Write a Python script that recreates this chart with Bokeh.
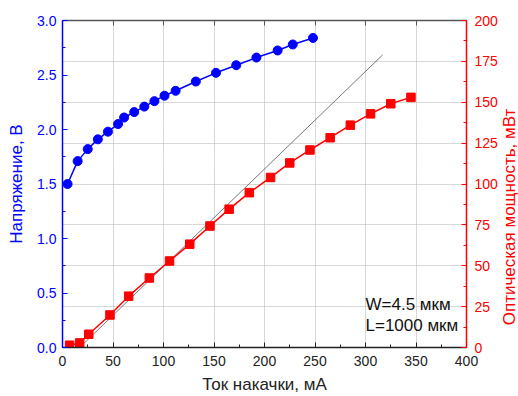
import math
from bokeh.plotting import figure
from bokeh.layouts import row
from bokeh.models import (Range1d, LinearAxis, SingleIntervalTicker, Grid, Label, Div,
                          PrintfTickFormatter, CustomJSTickFormatter)
from bokeh.embed import file_html
from bokeh.resources import INLINE

# ---- data ----
v_current = [5, 15, 25, 35, 45, 55, 61, 71, 81, 91, 101, 112, 132, 152, 172, 192, 213, 228, 248]
voltage = [1.50, 1.71, 1.82, 1.91, 1.98, 2.05, 2.11, 2.16, 2.21, 2.26, 2.31, 2.355, 2.44, 2.52, 2.59, 2.66, 2.725, 2.78, 2.84]

p_current = [7, 17, 26, 47, 65.5, 86, 106, 126, 146, 165, 185, 206, 225, 245, 265, 285, 305, 325, 345]
power = [1.4, 2.8, 8.1, 19.9, 31.4, 42.5, 52.9, 63.2, 74.3, 84.6, 94.7, 104, 112.9, 120.8, 128.3, 136, 142.9, 149.1, 153]

fit_current = [17, 317]
fit_power = [0, 179]

x_label = "Ток накачки, мА"
y_label = "Напряжение, В"
y2_label = "Оптическая мощность, мВт"
notes = ["W=4.5 мкм", "L=1000 мкм"]
note_x = 300
note_y = [26.0, 13.5]

FONT = "Liberation Sans"
BLUE = "#0000ff"
RED = "#ff0000"

p = figure(width=500, height=396, output_backend="svg", toolbar_location=None,
           x_range=Range1d(0, 400), y_range=Range1d(0, 3.0),
           min_border_left=62, min_border_right=32, min_border_top=20, min_border_bottom=47)
p.extra_y_ranges = {"power": Range1d(0, 200)}
p.outline_line_color = None
p.background_fill_color = "white"
p.border_fill_color = "white"

def style_axis(ax, color, label_color=None):
    ax.axis_line_color = color
    ax.axis_line_width = 1.5
    ax.major_tick_line_color = color
    ax.minor_tick_line_color = color
    ax.major_tick_in = 5
    ax.major_tick_out = 0
    ax.minor_tick_in = 3
    ax.minor_tick_out = 0
    ax.major_label_text_font = FONT
    ax.major_label_text_font_size = "14px"
    ax.major_label_text_color = label_color or color
    ax.axis_label_text_font = FONT
    ax.axis_label_text_font_size = "17px"
    ax.axis_label_text_font_style = "normal"
    ax.axis_label_text_color = label_color or color
    ax.major_label_standoff = 6

# bottom axis
xax = p.xaxis[0]
xax.ticker = SingleIntervalTicker(interval=50, num_minor_ticks=2)
style_axis(xax, "#222222", "#222222")
xax.axis_label = x_label
xax.major_label_standoff = 8
xax.axis_label_standoff = 6

# left axis
yax = p.yaxis[0]
yax.ticker = SingleIntervalTicker(interval=0.5, num_minor_ticks=2)
yax.formatter = PrintfTickFormatter(format="%.1f")
style_axis(yax, BLUE)
yax.axis_label = y_label
yax.axis_label_standoff = 8

# right axis (title drawn beside the figure, reading bottom-to-top)
rax = LinearAxis(y_range_name="power", ticker=SingleIntervalTicker(interval=25, num_minor_ticks=2))
style_axis(rax, RED)
rax.major_label_standoff = 8
p.add_layout(rax, "right")

# top axis (ticks only)
tax = LinearAxis(ticker=SingleIntervalTicker(interval=50, num_minor_ticks=0),
                 formatter=CustomJSTickFormatter(code="return ''"))
style_axis(tax, "#555555")
tax.major_label_standoff = 0
p.add_layout(tax, "above")

# grids
p.xgrid.ticker = xax.ticker
p.xgrid.grid_line_color = "#b0b0b0"
p.xgrid.grid_line_dash = "1 1"
p.ygrid.visible = False
g2 = Grid(dimension=1, ticker=rax.ticker, y_range_name="power",
          grid_line_color="#b0b0b0", grid_line_dash="1 1")
p.add_layout(g2)

# fit line
p.line(fit_current, fit_power, y_range_name="power", line_color="#555555", line_width=0.8)

# voltage
p.line(v_current, voltage, line_color=BLUE, line_width=1.5)
p.scatter(v_current, voltage, marker="circle", size=9, fill_color=BLUE, line_color=BLUE)

# power
p.line(p_current, power, y_range_name="power", line_color=RED, line_width=1.5)
p.scatter(p_current, power, y_range_name="power", marker="square", size=8.5, fill_color=RED, line_color=RED)

for t, ny in zip(notes, note_y):
    p.add_layout(Label(x=note_x, y=ny, y_range_name="power", text=t, text_baseline="middle",
                       text_font=FONT, text_font_size="17px", text_color="#111111"))

# right axis title
title_html = (
    '<div style="position:absolute;left:10px;top:217px;'
    'transform:translate(-50%,-50%) rotate(-90deg);white-space:nowrap;'
    "color:#ff0000;font-family:'Liberation Sans',Arial,sans-serif;font-size:17px;line-height:20px;\">"
    + y2_label + "</div>"
)
div = Div(text=title_html, width=18, height=396, margin=0,
          styles={"position": "relative", "overflow": "visible"})

layout = row(p, div, spacing=0)
open("out.html", "w").write(file_html(layout, INLINE))
